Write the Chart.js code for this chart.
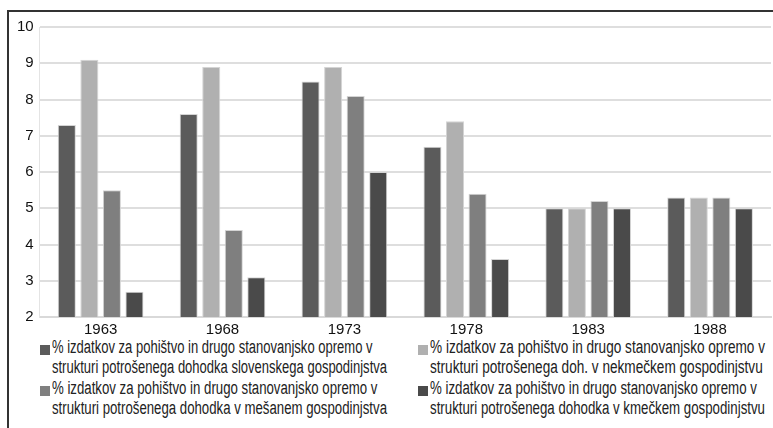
<!DOCTYPE html>
<html>
<head>
<meta charset="utf-8">
<script src="https://cdn.jsdelivr.net/npm/chart.js@4/dist/chart.umd.min.js"></script>
<style>
  html, body { margin: 0; padding: 0; background: #fff; }
  body { width: 773px; height: 428px; position: relative; overflow: hidden;
         font-family: "Liberation Sans", Arial, sans-serif; }
  #frame { position: absolute; left: 7px; top: 10px; width: 766px; height: 418px;
           border-left: 2px solid #333; border-top: 2px solid #333; box-sizing: border-box; }
  #wrap { position: absolute; left: 8px; top: 12px; width: 765px; height: 323px; }
  #legend { position: absolute; left: 38px; top: 337px; width: 735px; color: #222;
            font-size: 18px; line-height: 20.3px; }
  .item { position: absolute; }
  .box { position: absolute; left: 2px; top: 8px; width: 10px; height: 10px; }
  .txt { position: absolute; left: 14px; top: 0; white-space: nowrap; transform-origin: 0 0; }
</style>
</head>
<body>
<div id="frame"></div>
<div id="wrap"><canvas id="chart"></canvas></div>
<div id="legend"></div>
<script>
const years = ['1963', '1968', '1973', '1978', '1983', '1988'];
const seriesNames = [
  ['% izdatkov za pohištvo in drugo stanovanjsko opremo v', 'strukturi potrošenega dohodka slovenskega gospodinjstva'],
  ['% izdatkov za pohištvo in drugo stanovanjsko opremo v', 'strukturi potrošenega doh. v nekmečkem gospodinjstvu'],
  ['% izdatkov za pohištvo in drugo stanovanjsko opremo v', 'strukturi potrošenega dohodka v mešanem gospodinjstva'],
  ['% izdatkov za pohištvo in drugo stanovanjsko opremo v', 'strukturi potrošenega dohodka v kmečkem gospodinjstvu']
];
const slovenian = [7.3, 7.6, 8.5, 6.7, 5.0, 5.3];
const nonFarm = [9.1, 8.9, 8.9, 7.4, 5.0, 5.3];
const mixed = [5.5, 4.4, 8.1, 5.4, 5.2, 5.3];
const farm = [2.7, 3.1, 6.0, 3.6, 5.0, 5.0];
const yTicks = [2, 3, 4, 5, 6, 7, 8, 9, 10];

const colors = ['#5b5b5b', '#b0b0b0', '#7f7f7f', '#4a4a4a'];
const values = [slovenian, nonFarm, mixed, farm];
const fontFam = '"Liberation Sans", Arial, sans-serif';

const chart = new Chart(document.getElementById('chart'), {
  type: 'bar',
  data: {
    labels: years,
    datasets: values.map((v, i) => ({
      label: seriesNames[i].join(' '),
      data: v,
      backgroundColor: colors[i],
      borderColor: '#d4d4d4',
      borderWidth: 1,
      barPercentage: 0.8,
      categoryPercentage: 0.74
    }))
  },
  options: {
    responsive: true,
    maintainAspectRatio: false,
    animation: false,
    layout: { padding: { top: 7, right: 2, left: 3, bottom: 0 } },
    plugins: {
      legend: { display: false },
      tooltip: { enabled: false }
    },
    scales: {
      x: {
        grid: { display: false },
        border: { color: '#d9d9d9', width: 2 },
        ticks: { color: '#111', font: { family: fontFam, size: 15 }, padding: -4 }
      },
      y: {
        min: 2,
        max: 10,
        afterBuildTicks: axis => { axis.ticks = yTicks.map(v => ({ value: v })); },
        grid: { color: '#dedede', lineWidth: 2, drawTicks: false },
        border: { color: '#e4e4e4', width: 1 },
        ticks: { color: '#111', font: { family: fontFam, size: 15 }, padding: 6 }
      }
    }
  }
});

// legend in two columns, order as in the original
const legend = document.getElementById('legend');
const order = [[0, 0, 0], [1, 378, 0], [2, 0, 40.6], [3, 378, 40.6]];
order.forEach(([i, x, y]) => {
  const d = document.createElement('div');
  d.className = 'item';
  d.style.left = x + 'px';
  d.style.top = y + 'px';
  d.innerHTML = '<span class="box" style="background:' + colors[i] + '"></span>' +
    '<div class="txt"><div>' + seriesNames[i].join('</div><div>') + '</div></div>';
  legend.appendChild(d);
  const t = d.querySelector('.txt');
  const w = t.firstChild.getBoundingClientRect().width;
  t.style.transform = 'scaleX(' + (335 / w) + ')';
});
</script>
</body>
</html>
